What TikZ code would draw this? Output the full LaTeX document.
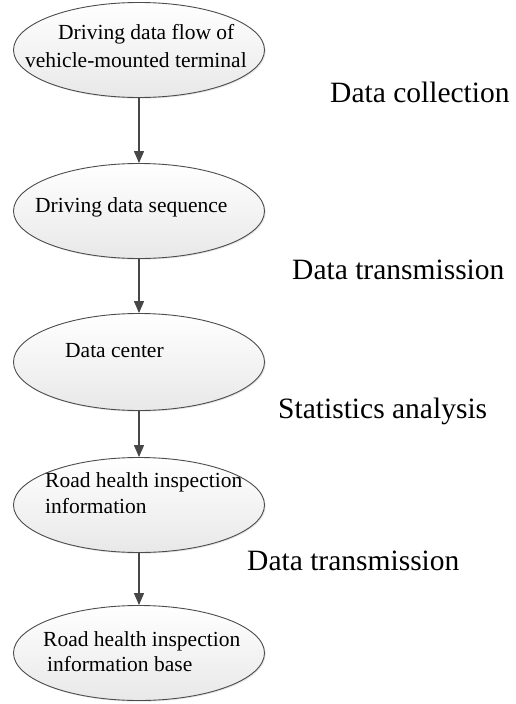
\documentclass[tikz,border=0pt]{standalone}
\usepackage{fontspec}
\setmainfont{Liberation Serif}
\usetikzlibrary{arrows.meta,shadows,shapes.geometric}
\begin{document}
\begin{tikzpicture}[x=1pt,y=-1pt,
  oval/.style={ellipse,draw=black!70,line width=0.9pt,minimum width=251pt,minimum height=95pt,inner sep=0pt,
    top color=white,bottom color=black!9,
    drop shadow={opacity=0.2,shadow xshift=1.2pt,shadow yshift=-1.2pt}},
  intext/.style={anchor=base west,inner sep=0pt,font=\fontsize{21.5}{25}\selectfont,text=black},
  side/.style={anchor=base west,inner sep=0pt,font=\fontsize{29.5}{33}\selectfont,text=black},
  arr/.style={draw=black!72,line width=1.3pt,-{Triangle[length=12pt,width=10pt]}}]
\useasboundingbox[fill=white] (0,0) rectangle (516,704);
\node[oval] (e1) at (139,50) {};
\node[oval] (e2) at (139,211) {};
\node[oval,minimum height=97pt] (e3) at (139,362) {};
\node[oval] (e4) at (139,505) {};
\node[oval] (e5) at (139,653) {};
\node[intext] (t1a) at (58,39) {Driving data flow of};
\node[intext] (t1b) at (25,67) {vehicle-mounted terminal};
\node[intext] (t2) at (35,212) {Driving data sequence};
\node[intext] (t3) at (65,357) {Data center};
\node[intext] (t4a) at (45,487) {Road health inspection};
\node[intext] (t4b) at (45,513) {information};
\node[intext] (t5a) at (43,646) {Road health inspection};
\node[intext] (t5b) at (47,671) {information base};
\node[side] (l1) at (330,102) {Data collection};
\node[side] (l2) at (292,279) {Data transmission};
\node[side] (l3) at (278,418) {Statistics analysis};
\node[side] (l4) at (247,570) {Data transmission};
\draw[arr] (e1.south) -- (e2.north);
\draw[arr] (e2.south) -- (e3.north);
\draw[arr] (e3.south) -- (e4.north);
\draw[arr] (e4.south) -- (e5.north);
\end{tikzpicture}
\end{document}
